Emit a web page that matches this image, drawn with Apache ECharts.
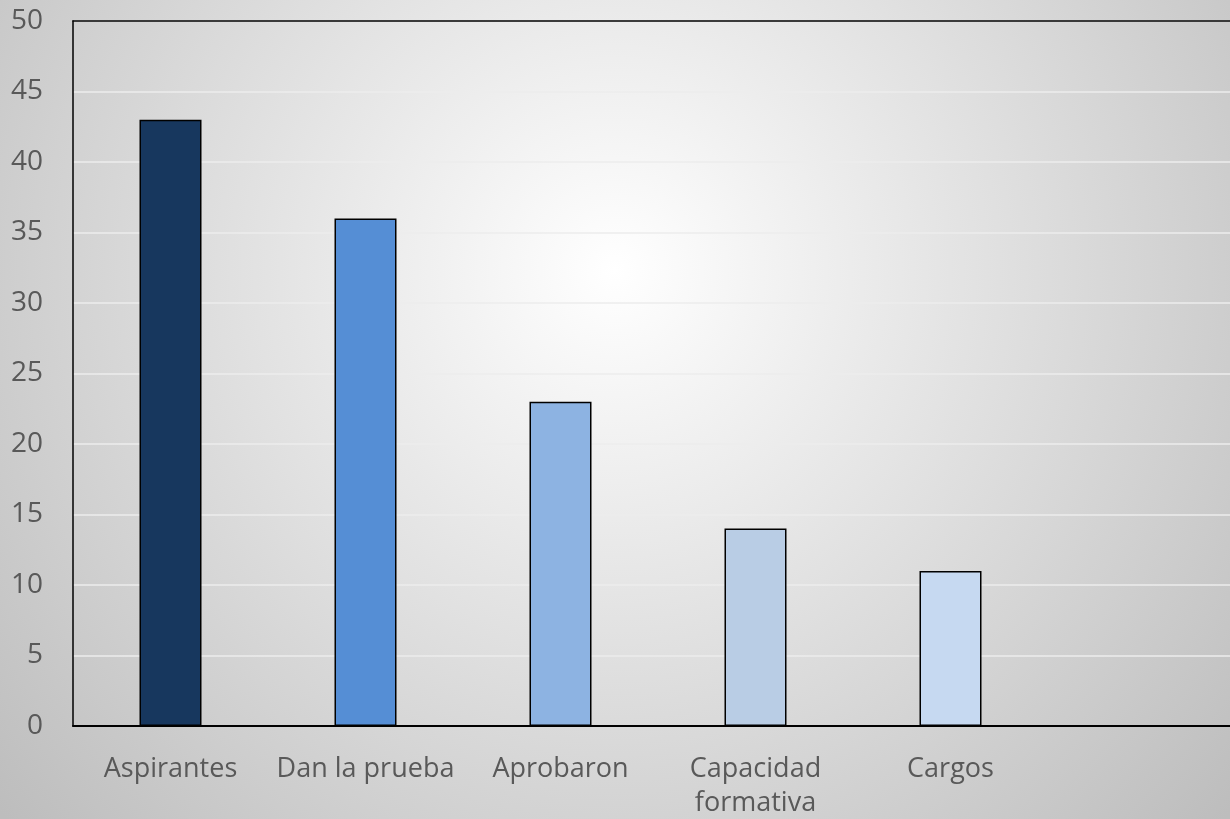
<!DOCTYPE html>
<html><head><meta charset="utf-8">
<script src="https://cdn.jsdelivr.net/npm/echarts@6/dist/echarts.min.js"></script>
<style>html,body{margin:0;padding:0;overflow:hidden;}#c{width:1230px;height:819px;}</style>
</head><body><div id="c"></div>
<script>
var categories = ['Aspirantes', 'Dan la prueba', 'Aprobaron', 'Capacidad\nformativa', 'Cargos', ''];
var values = [43, 36, 23, 14, 11, null];
var barColors = ['#17375e', '#558ed5', '#8db3e2', '#b9cde5', '#c6d9f1', '#ffffff'];

var chart = echarts.init(document.getElementById('c'));
chart.setOption({
  backgroundColor: {type: 'radial', x: 0.5, y: 0.33, r: 1.0,
    colorStops: [{offset: 0, color: '#ffffff'}, {offset: 1, color: '#bdbdbd'}]},
  grid: {left: 73, right: -13, top: 21, bottom: 93, show: false,
    containLabel: false, outerBoundsMode: 'none'},
  xAxis: [{type: 'category', data: categories,
    axisLine: {show: true, lineStyle: {color: '#000', width: 2}},
    axisTick: {show: false},
    axisLabel: {color: '#595959', fontSize: 27, fontFamily: 'Open Sans', margin: 26, lineHeight: 34, interval: 0}},
    {type: 'category', position: 'top', data: categories,
    axisLine: {show: true, lineStyle: {color: '#000', width: 1.5}},
    axisTick: {show: false}, axisLabel: {show: false}}],
  yAxis: {type: 'value', min: 0, max: 50, interval: 5,
    axisLine: {show: true, lineStyle: {color: '#000', width: 1.5}},
    axisTick: {show: false},
    splitLine: {lineStyle: {color: '#ececec', width: 1.5}},
    axisLabel: {color: '#595959', fontSize: 28, fontFamily: 'Open Sans', margin: 30}},
  series: [{type: 'bar', barWidth: 62, xAxisIndex: 0,
    data: values.map(function (v, i) { return {value: v, itemStyle: {color: barColors[i], borderColor: '#000', borderWidth: 1.5}}; })}]
});
</script></body></html>
